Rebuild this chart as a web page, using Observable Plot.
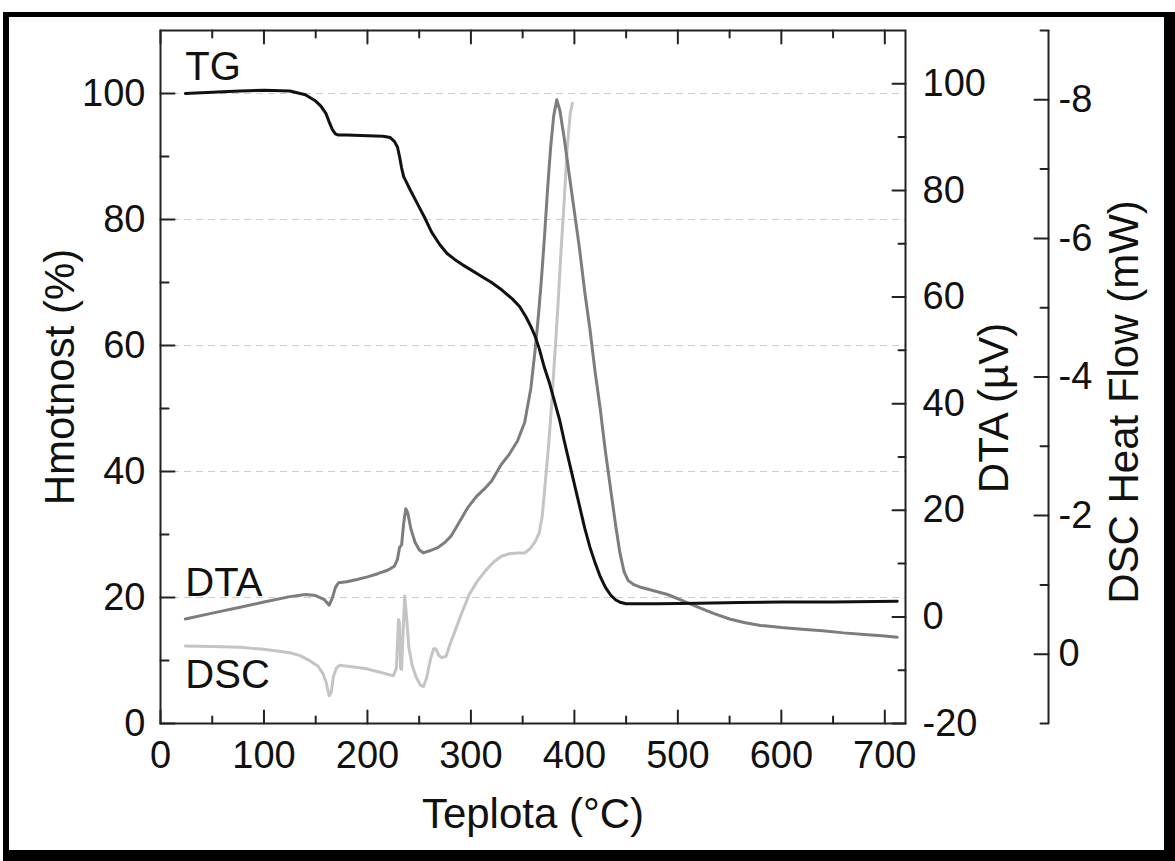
<!DOCTYPE html>
<html><head><meta charset="utf-8">
<script src="https://cdn.jsdelivr.net/npm/d3@7"></script>
<script src="https://cdn.jsdelivr.net/npm/@observablehq/plot@0.6"></script>
<style>
body{margin:0;background:#fff;}
#wrap{position:relative;width:1175px;height:861px;overflow:hidden;background:#fff;}
#chart{position:absolute;left:0;top:0;}
#border{position:absolute;left:3px;top:12px;right:0;bottom:0;border-left:6px solid #000;border-top:5px solid #000;border-right:11px solid #000;border-bottom:11px solid #000;box-sizing:border-box;pointer-events:none;}
</style></head><body>
<div id="wrap"><div id="chart"></div><div id="border"></div></div>
<script>
// ---- data ----
const tgTemp = [24,50,77,100,125,140,150,155,160,163,166,169,172,180,200,215,222,226,229,231,233,235,238,241,248,255,262,270,277,284,292,300,310,320,330,340,347,353,358,362,366,371,376,381,386,390,395,400,405,410,415,420,425,430,435,440,445,450,460,480,520,560,600,650,712];
const tgMass = [100.0,100.2,100.4,100.5,100.4,99.8,98.8,98.0,96.8,95.5,94.3,93.6,93.4,93.4,93.3,93.2,93.0,92.4,91.5,90.0,88.2,86.8,85.8,84.8,82.6,80.4,78.0,76.0,74.6,73.7,72.8,72.0,71.0,70.0,68.8,67.4,66.2,64.6,63.0,61.5,59.5,56.5,54.0,51.0,48.0,45.0,41.5,38.0,34.5,31.0,28.0,25.5,23.3,21.6,20.4,19.6,19.2,19.0,19.0,19.0,19.1,19.2,19.3,19.3,19.4];

const dtaTemp = [24,50,77,100,125,140,150,158,163,166,169,172,180,190,200,210,220,226,229,231,233,235,237,239,242,246,250,254,260,268,275,281,288,297,305,313,320,329,337,345,352,358,362,365,368,371,374,377,380,383,386,390,395,400,405,410,415,420,425,430,435,440,444,448,452,458,465,475,490,505,520,535,550,565,580,600,620,640,660,680,700,712];
const dtaValue = [-0.4,0.7,1.8,2.8,3.8,4.2,4.0,3.3,2.2,3.5,5.5,6.4,6.6,7.0,7.5,8.1,8.8,9.5,10.8,13.0,13.5,17.5,20.3,19.5,16.5,14.0,12.6,12.0,12.4,13.0,14.0,15.2,17.5,20.5,22.5,24.0,25.5,28.5,30.5,33.0,36.5,43.0,50.0,56.0,63.0,71.0,80.0,88.0,94.0,97.0,95.0,90.0,83.0,76.0,69.0,61.0,54.0,46.0,39.0,31.0,24.0,17.0,12.0,8.5,6.8,6.0,5.5,5.0,4.2,3.0,1.8,0.6,-0.4,-1.1,-1.6,-2.0,-2.3,-2.6,-3.0,-3.3,-3.6,-3.8];

const dscTemp = [24,50,77,100,125,135,145,152,157,160,163,165,167,170,173,185,199,212,225,228,230,231,232,233,235,236,238,240,243,247,251,254,257,261,264,266,269,272,276,280,285,290,298,306,315,322,329,337,345,352,357,362,366,369,372,375,378,381,384,387,390,393,396,398];
const dscValue = [-0.12,-0.11,-0.10,-0.07,-0.02,0.02,0.10,0.17,0.28,0.40,0.60,0.55,0.33,0.20,0.16,0.18,0.21,0.26,0.31,0.20,-0.50,-0.45,0.20,0.22,-0.50,-0.84,-0.50,-0.10,0.15,0.33,0.44,0.47,0.35,0.07,-0.08,-0.08,0.02,0.05,0.03,-0.15,-0.35,-0.55,-0.85,-1.05,-1.22,-1.33,-1.41,-1.45,-1.46,-1.46,-1.52,-1.62,-1.75,-2.0,-2.5,-3.0,-3.6,-4.3,-5.0,-5.8,-6.5,-7.3,-7.8,-7.95];

const xTicks = [0,100,200,300,400,500,600,700];
const xMinor = [50,150,250,350,450,550,650];
const massTicks = [0,20,40,60,80,100];
const massMinor = [10,30,50,70,90];
const dtaTicks = [-20,0,20,40,60,80,100];
const dtaMinor = [-10,10,30,50,70,90];
const dscTicks = [-8,-6,-4,-2,0];
const dscMinor = [-9,-7,-5,-3,-1,1];

const seriesNames = ["TG","DTA","DSC"];

// ---- axis mappings onto the left (mass) scale ----
const massDomain = [0,110];
const dtaDomain = [-20,110];
const dscDomain = [1,-9];   // bottom -> top (inverted axis)
const lin = (d0) => v => massDomain[0] + (v - d0[0]) * (massDomain[1]-massDomain[0]) / (d0[1]-d0[0]);
const fromDta = lin(dtaDomain);
const fromDsc = lin(dscDomain);
const toDta = m => dtaDomain[0] + (m - massDomain[0]) * (dtaDomain[1]-dtaDomain[0]) / (massDomain[1]-massDomain[0]);
const toDsc = m => dscDomain[0] + (m - massDomain[0]) * (dscDomain[1]-dscDomain[0]) / (massDomain[1]-massDomain[0]);
const fmt = v => { const r = Math.round(v); return String(r === 0 ? 0 : r); };

const tg = tgTemp.map((t,i) => ({t, v: tgMass[i]}));
const dta = dtaTemp.map((t,i) => ({t, v: fromDta(dtaValue[i])}));
const dsc = dscTemp.map((t,i) => ({t, v: fromDsc(dscValue[i])}));

const F = "'Liberation Sans', Arial, Helvetica, sans-serif";
const TS = 38;   // tick label size
const LS = 42;   // axis title size
const SS = 40;   // series label size
const dscOffset = 143;
const ink = "#111";

// tick marks drawn as vectors (custom straight shape) so they can point inward
const tickShape = {draw(context, l) { context.moveTo(0, 0); context.lineTo(0, -l); }};
const vtick = (vals, channel, frameAnchor, rotate, length, dx = 0) =>
  Plot.vector(vals, {[channel]: d => d, frameAnchor, rotate, length, anchor: "start", shape: tickShape, stroke: "#222", strokeWidth: 2, dx});

const chart = Plot.plot({
  width: 1175, height: 861,
  marginLeft: 160, marginRight: 270, marginTop: 30, marginBottom: 138,
  style: {fontFamily: F, background: "transparent", color: ink},
  x: {domain: [0,720], axis: null},
  y: {domain: massDomain, axis: null},
  marks: [
    Plot.gridY(massTicks.filter(v => v > 0), {stroke: "#cccccc", strokeOpacity: 1, strokeDasharray: "7,5", strokeWidth: 1.2}),
    Plot.lineY(dsc, {x: "t", y: "v", stroke: "#c4c4c4", strokeWidth: 3}),
    Plot.lineY(dta, {x: "t", y: "v", stroke: "#7d7d7d", strokeWidth: 3}),
    Plot.lineY(tg, {x: "t", y: "v", stroke: ink, strokeWidth: 3}),
    Plot.frame({stroke: "#222", strokeWidth: 2}),
    // left axis (ticks point inward)
    vtick(massTicks, "y", "left", 90, 14),
    vtick(massMinor, "y", "left", 90, 8),
    Plot.axisY(massTicks, {anchor: "left", tickSize: 0, tickPadding: 15, fontSize: TS, tickFormat: fmt, label: null, fill: ink}),
    // bottom / top axes
    vtick(xTicks, "x", "bottom", 0, 13),
    vtick(xMinor, "x", "bottom", 0, 7),
    vtick(xTicks, "x", "top", 180, 13),
    vtick(xMinor, "x", "top", 180, 7),
    Plot.axisX(xTicks, {anchor: "bottom", tickSize: 0, tickPadding: 18, fontSize: TS, tickFormat: fmt, label: null, fill: ink}),
    // right DTA axis
    vtick(dtaTicks.map(fromDta), "y", "right", -90, 13),
    vtick(dtaMinor.map(fromDta), "y", "right", -90, 7),
    Plot.axisY(dtaTicks.map(fromDta), {anchor: "right", tickSize: 0, tickPadding: 17, fontSize: TS, tickFormat: m => fmt(toDta(m)), label: null, fill: ink}),
    // DSC axis (offset to the right, ticks point left)
    Plot.ruleX([720], {dx: dscOffset, stroke: "#222", strokeWidth: 2}),
    vtick(dscTicks.map(fromDsc), "y", "right", -90, 14, dscOffset),
    vtick(dscMinor.map(fromDsc), "y", "right", -90, 8, dscOffset),
    Plot.axisY(dscTicks.map(fromDsc), {anchor: "right", tickSize: 0, tickPadding: 10, dx: dscOffset, fontSize: TS, tickFormat: m => fmt(toDsc(m)), label: null, fill: ink}),
    // axis titles
    Plot.text(["Teplota (°C)"], {frameAnchor: "bottom", textAnchor: "middle", lineAnchor: "middle", dy: 91, fontSize: LS, fill: ink}),
    Plot.text(["Hmotnost (%)"], {frameAnchor: "left", textAnchor: "middle", lineAnchor: "middle", dx: -100, dy: 0, rotate: -90, fontSize: LS, fill: ink}),
    Plot.text(["DTA (µV)"], {frameAnchor: "right", textAnchor: "middle", lineAnchor: "middle", dx: 89, dy: 31, rotate: -90, fontSize: LS, fill: ink}),
    Plot.text(["DSC Heat Flow (mW)"], {frameAnchor: "right", textAnchor: "middle", lineAnchor: "middle", dx: 219, dy: 25, rotate: -90, fontSize: LS, fill: ink}),
    // series labels, anchored on each series' first point
    Plot.text([tg[0]], {x: "t", y: "v", text: () => seriesNames[0], textAnchor: "start", lineAnchor: "bottom", dy: -14, fontSize: SS, fill: ink}),
    Plot.text([dta[0]], {x: "t", y: "v", text: () => seriesNames[1], textAnchor: "start", lineAnchor: "bottom", dy: -23, fontSize: SS, fill: ink}),
    Plot.text([dsc[0]], {x: "t", y: "v", text: () => seriesNames[2], textAnchor: "start", lineAnchor: "bottom", dy: 42, fontSize: SS, fill: ink})
  ]
});
document.getElementById("chart").appendChild(chart);
</script>
</body></html>
